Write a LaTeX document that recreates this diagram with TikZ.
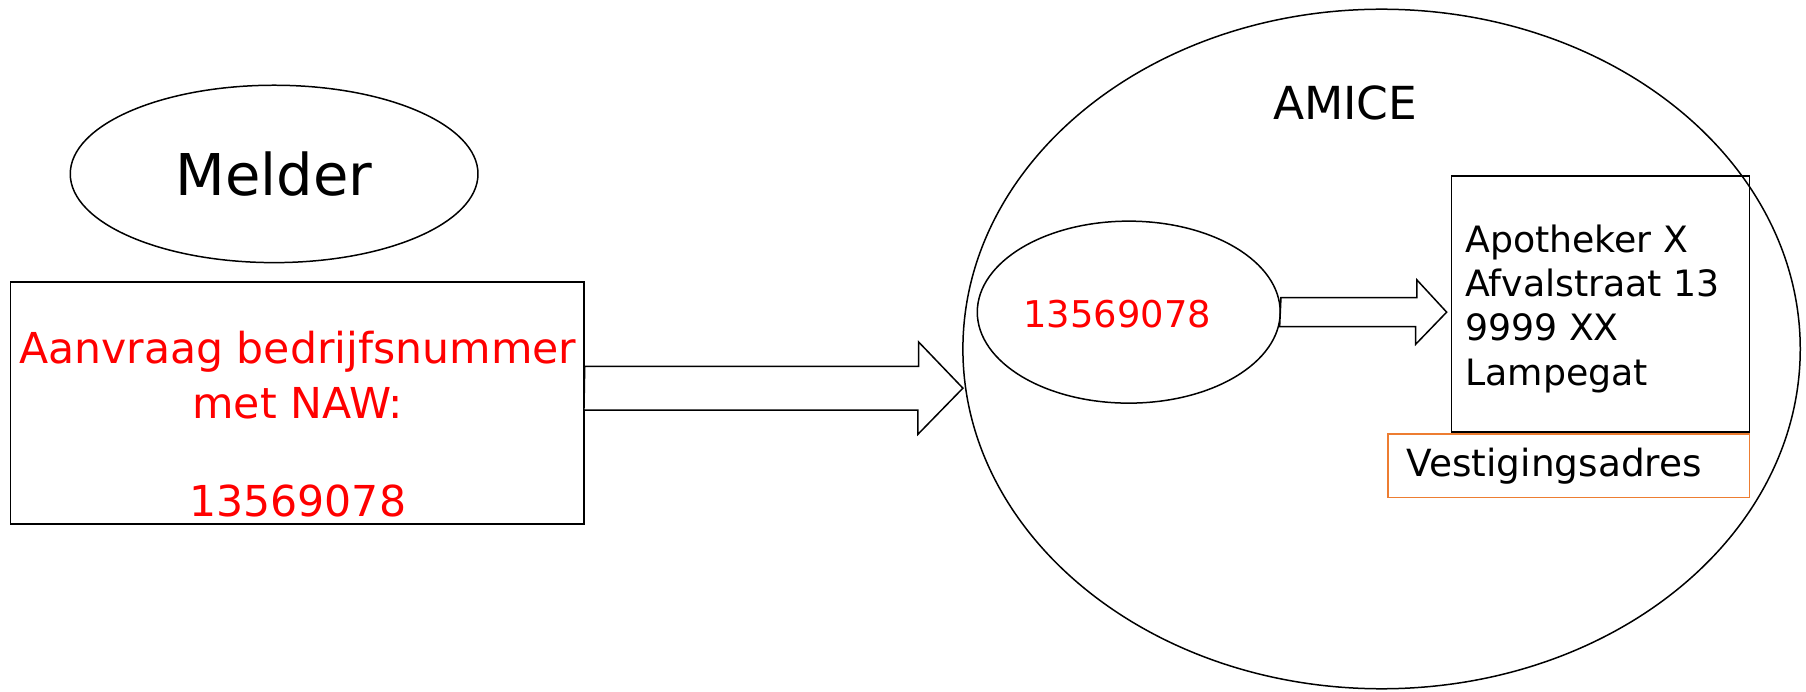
\documentclass[tikz,border=0pt]{standalone}
\usepackage{fontspec}
\setmainfont{DejaVu Sans}
\usetikzlibrary{shapes.geometric}
\definecolor{orng}{RGB}{237,125,49}
\tikzset{
  line/.style={draw=black,line width=1.3pt},
  ell/.style={line,ellipse,inner sep=0pt},
  blk/.style={line,rectangle,inner sep=0pt},
  barrow/.style={line,fill=white,line join=miter},
  red/.style={text=red},
}
\begin{document}
\begin{tikzpicture}[x=1pt,y=-1pt]
\useasboundingbox (0,0) rectangle (1568,600);
% Melder
\node[ell,minimum width=354pt,minimum height=154pt,font=\fontsize{50}{60}\selectfont] (melder) at (238,151) {Melder};
% left box
\node[blk,minimum width=498pt,minimum height=210pt] (req) at (258,350) {};
\node[red,align=center,inner sep=0pt,font=\fontsize{37}{48}\selectfont] (reqtxt) at (258.5,368) {Aanvraag bedrijfsnummer\\met NAW:\\[37pt]13569078};
% AMICE
\node[ell,minimum width=727pt,minimum height=590pt] (amice) at (1199.5,303) {};
\node[inner sep=0pt,font=\fontsize{39.5}{46}\selectfont] (amicetxt) at (1168,89) {AMICE};
% inner ellipse
\node[ell,minimum width=263pt,minimum height=158pt] (num) at (980,271) {};
\node[red,inner sep=0pt,font=\fontsize{32}{38}\selectfont] (numtxt) at (970,273) {13569078};
% address box
\node[blk,minimum width=259pt,minimum height=222pt] (addr) at (1389.5,264) {};
\node[inner sep=0pt,anchor=west,align=left,font=\fontsize{31.5}{38.5}\selectfont] (addrtxt) at (1272,268) {Apotheker X\\Afvalstraat 13\\9999 XX\\Lampegat};
% vestigingsadres
\node[draw=orng,line width=1.3pt,rectangle,inner sep=0pt,minimum width=314pt,minimum height=55pt] (vest) at (1362,404.5) {};
\node[inner sep=0pt,anchor=west,font=\fontsize{32.5}{38}\selectfont] (vesttxt) at (1221,405) {Vestigingsadres};
% big block arrow
\coordinate (a1s) at (req.east |- 0,337);
\coordinate (a1t) at (836,337);
\draw[barrow] (a1s) ++(0,-19) -- ++(290,0) -- ++(0,-21) -- (a1t) -- ++(-39,40) -- ++(0,-21) -- ++(-290,0) -- cycle;
% small block arrow
\coordinate (a2s) at (num.east);
\coordinate (a2t) at (1256,271);
\draw[barrow] (a2s) ++(0,-12.5) -- ++(118,0) -- ++(0,-15.5) -- (a2t) -- ++(-27,28) -- ++(0,-15.5) -- ++(-118,0) -- cycle;
\end{tikzpicture}
\end{document}
